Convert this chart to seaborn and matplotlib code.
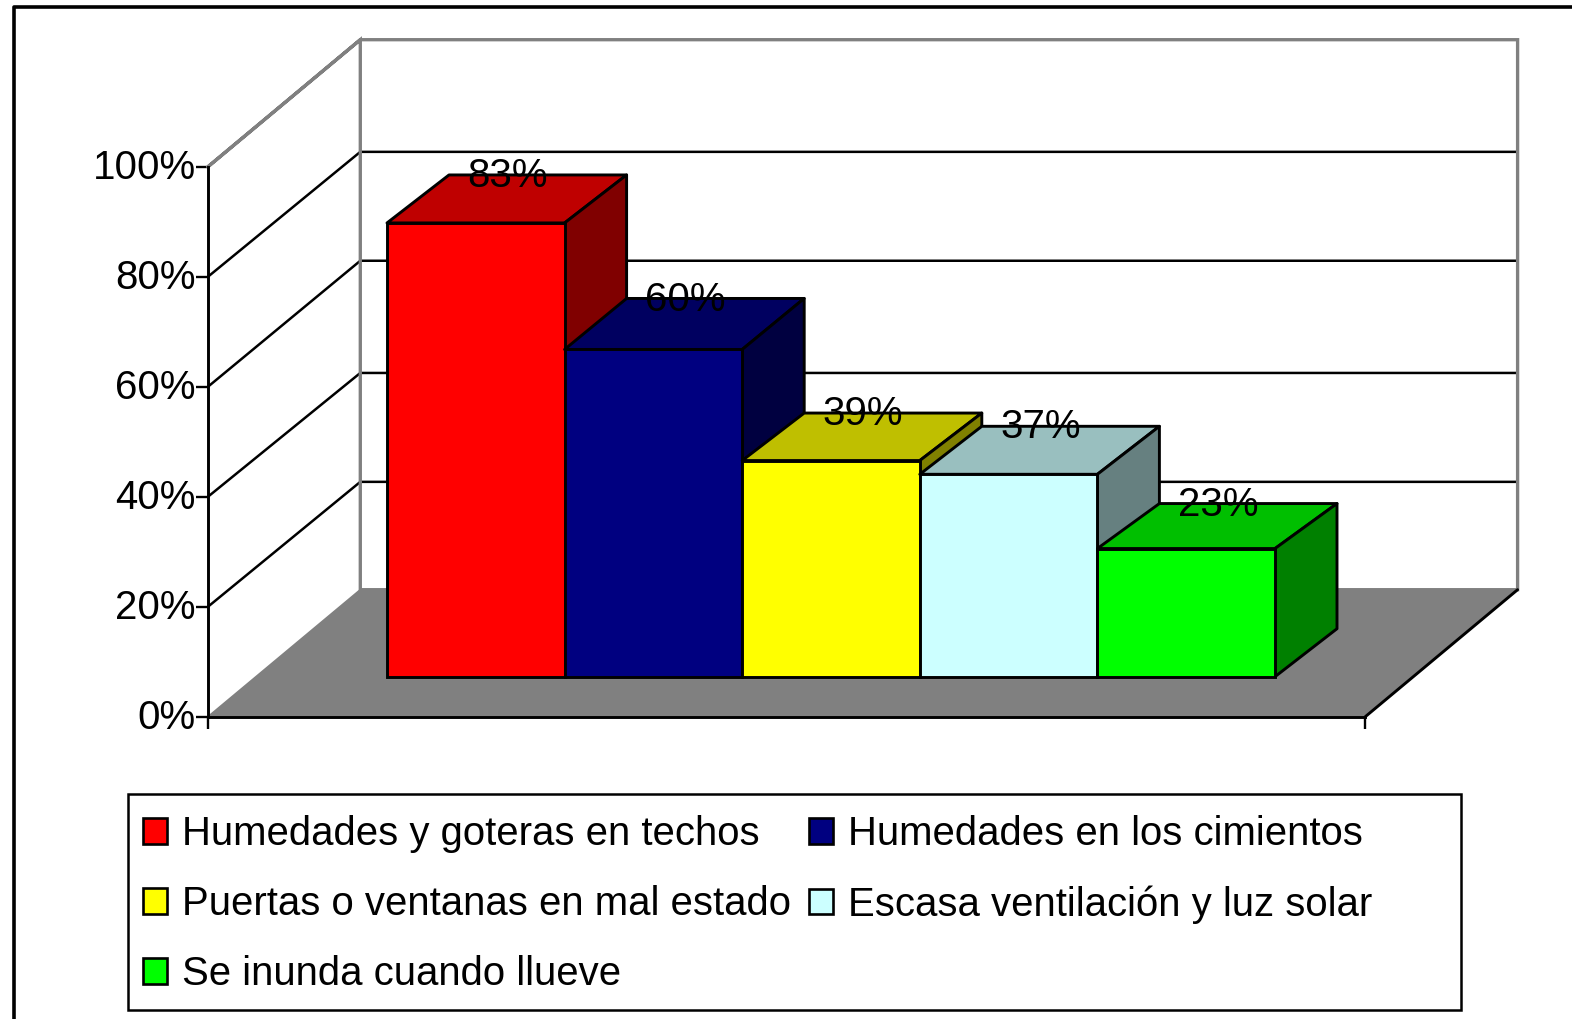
# -*- coding: utf-8 -*-
import seaborn as sns
import matplotlib
matplotlib.use("Agg")
import matplotlib.pyplot as plt
from matplotlib.colors import to_rgb
from matplotlib.lines import Line2D
from matplotlib.patches import Polygon, Rectangle
from matplotlib.ticker import PercentFormatter
from matplotlib.transforms import ScaledTranslation

categories = ["Humedades y goteras en techos", "Humedades en los cimientos",
              "Puertas o ventanas en mal estado", "Escasa ventilación y luz solar",
              "Se inunda cuando llueve"]
values = [82.5, 59.5, 39.3, 36.8, 23.3]
value_labels = ["83%", "60%", "39%", "37%", "23%"]
bar_colors = ["#FF0000", "#000080", "#FFFF00", "#CCFFFF", "#00FF00"]
y_ticks = [0, 20, 40, 60, 80, 100]

W, H = 1572, 1019
FS = 29
LEG_FS = 28.9
LW = 2.1
GRAY = "#808080"


def axes_rect(left, right, top, bottom):
    # pixel box of the picture -> figure fractions
    return [left / W, 1 - bottom / H, (right - left) / W, (bottom - top) / H]


def shade(color, factor):
    return tuple(c * factor for c in to_rgb(color))


sns.set_style("white")
plt.rcParams["font.family"] = ["Liberation Sans", "DejaVu Sans"]
plt.rcParams["text.color"] = "black"

fig = plt.figure(figsize=(W / 100, H / 100), dpi=100, facecolor="white")

# outer frame, cut by the right and bottom edge of the picture
fig.add_artist(Line2D([13.5 / W, 13.5 / W, 1], [0, 1 - 7 / H, 1 - 7 / H],
                      color="black", lw=2.6))

# box: walls and floor, front plane is the real y axis
ax_box = fig.add_axes(axes_rect(208, 1365.3, 166.7, 716.7))
ax_box.set_xlim(0, 1)
ax_box.set_ylim(0, 100)
wall_dx = 152.3 / 1157.3
wall_dy = 127 / 5.5
# gridlines on the back wall do not sit quite evenly in the reference
back_shift = {20: 22.7, 40: 22.5, 60: 22.9, 80: 22.7}

ax_box.add_patch(Polygon([(0, 0), (1, 0), (1 + wall_dx, wall_dy), (wall_dx, wall_dy)],
                         facecolor=GRAY, edgecolor="none", clip_on=False, zorder=1))
for tick in y_ticks[1:-1]:
    back_y = tick + back_shift[tick]
    ax_box.plot([0, wall_dx, 1 + wall_dx], [tick, back_y, back_y],
                color="black", lw=1.8, clip_on=False, zorder=1.5,
                solid_joinstyle="miter")
ax_box.plot([0, wall_dx, 1 + wall_dx, 1 + wall_dx, wall_dx, wall_dx, 0],
            [100, 100 + wall_dy, 100 + wall_dy, wall_dy, wall_dy, 100 + wall_dy, 100],
            color=GRAY, lw=2.4, clip_on=False, zorder=1.6, solid_joinstyle="miter")
ax_box.plot([0, wall_dx], [0, wall_dy], color=GRAY, lw=1.2, clip_on=False, zorder=1.6)
ax_box.plot([1, 1 + wall_dx], [0, wall_dy], color="black", lw=LW, clip_on=False, zorder=1.7)

ax_box.set_yticks(y_ticks)
ax_box.yaxis.set_major_formatter(PercentFormatter(100, decimals=0))
ax_box.set_xticks([0, 1])
ax_box.set_xticklabels([])
ax_box.tick_params(axis="both", direction="out", length=8.4, width=1.7, color="black",
                   labelcolor="black", left=True, bottom=True, labelsize=FS, pad=0.5)
for side in ["top", "right"]:
    ax_box.spines[side].set_visible(False)
for side in ["left", "bottom"]:
    ax_box.spines[side].set_color("black")
    ax_box.spines[side].set_linewidth(LW)
ax_box.patch.set_visible(False)
# tick labels ride a little above their ticks
lift = ScaledTranslation(0, 3 / 100, fig.dpi_scale_trans)
for lab in ax_box.get_yticklabels():
    lab.set_transform(lab.get_transform() + lift)

# bars stand halfway into the floor, on their own axes
ax = fig.add_axes(axes_rect(387, 1275, 126.7, 676.7))
ax.patch.set_visible(False)
sns.barplot(x=categories, y=values, hue=categories, palette=bar_colors, order=categories,
            hue_order=categories, width=1, saturation=1, edgecolor="black", linewidth=LW,
            legend=False, ax=ax)
ax.set_xlim(-0.5, 4.5)
ax.set_ylim(0, 100)
ax.axis("off")

bar_dx = 62 / 177.6
bar_dy = 48 / 5.5
top_dy = [48 / 5.5, 51 / 5.5, 47.5 / 5.5, 48 / 5.5, 45 / 5.5]
for i, (val, col, txt, dy) in enumerate(zip(values, bar_colors, value_labels, top_dy)):
    x0, x1 = i - 0.5, i + 0.5
    ax.add_patch(Polygon([(x0, val), (x1, val), (x1 + bar_dx, val + dy), (x0 + bar_dx, val + dy)],
                         facecolor=shade(col, 0.75), edgecolor="black", lw=LW,
                         joinstyle="round", clip_on=False, zorder=3 + 2 * i))
    ax.add_patch(Polygon([(x1, 0), (x1 + bar_dx, bar_dy), (x1 + bar_dx, val + dy), (x1, val)],
                         facecolor=shade(col, 0.5), edgecolor="black", lw=LW,
                         joinstyle="round", clip_on=False, zorder=3 + 2 * i))
    ax.text(i + bar_dx / 2 + 0.005, val + dy - 0.2, txt, ha="center", va="center", fontsize=FS,
            color="black", clip_on=False, zorder=30)

bars = list(ax.patches)[:len(categories)]
for i, bar in enumerate(bars):
    bar.set_zorder(4 + 2 * i)
    bar.set_clip_on(False)

# legend box drawn apart, the entries sit closer than the box is wide
fig.add_artist(Rectangle((128 / W, 1 - 1010 / H), 1333 / W, 216 / H, transform=fig.transFigure,
                         facecolor="white", edgecolor="black", lw=1.8, zorder=1))
# matplotlib fills legend columns first, the reference reads row by row
order = [0, 2, 4, 1, 3]
leg_handles = [bars[i] for i in order]
leg_labels = [categories[i] for i in order]
leg = fig.legend(leg_handles, leg_labels, ncol=2, loc="upper left",
                 bbox_to_anchor=(143 / W, 1 - 815 / H), borderaxespad=0, borderpad=0,
                 fontsize=LEG_FS, frameon=False, handlelength=0.6, handleheight=0.6,
                 handletextpad=0.38, columnspacing=0.44, labelspacing=0.8, labelcolor="black")
for patch in leg.get_patches():
    patch.set_linewidth(1.9)

fig.savefig("out.png", dpi=100, facecolor="white")
